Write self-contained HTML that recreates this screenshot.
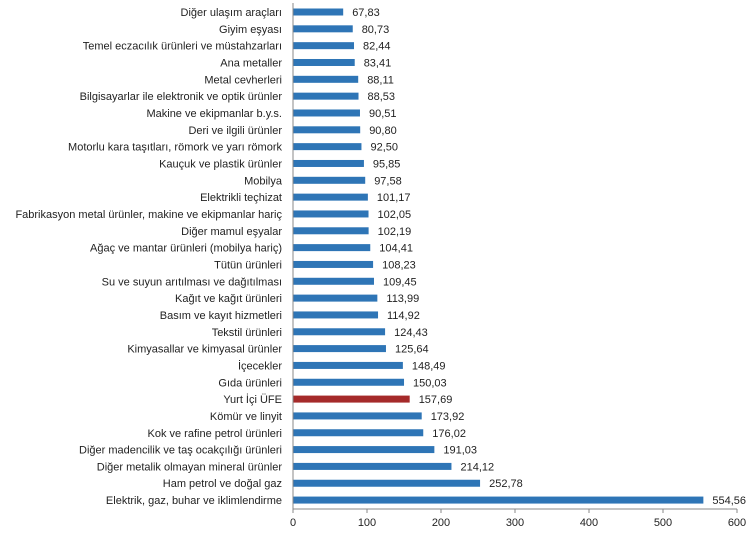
<!DOCTYPE html><html><head><meta charset="utf-8"><style>
body{margin:0;background:#fff;}
text{font-family:"Liberation Sans",sans-serif;font-size:11px;fill:#222;}
.b{fill:#2e75b6}
.l{text-anchor:end}
</style></head><body>
<svg width="750" height="529" xmlns="http://www.w3.org/2000/svg">
<g transform="translate(0,12)"><rect class="b" x="293" y="-3.5" width="50.19" height="7"/><text class="l" x="282" y="4">Diğer ulaşım araçları</text><text x="352.2" y="4">67,83</text></g>
<g transform="translate(0,28.83)"><rect class="b" x="293" y="-3.5" width="59.74" height="7"/><text class="l" x="282" y="4">Giyim eşyası</text><text x="361.7" y="4">80,73</text></g>
<g transform="translate(0,45.66)"><rect class="b" x="293" y="-3.5" width="61.01" height="7"/><text class="l" x="282" y="4">Temel eczacılık ürünleri ve müstahzarları</text><text x="363" y="4">82,44</text></g>
<g transform="translate(0,62.49)"><rect class="b" x="293" y="-3.5" width="61.72" height="7"/><text class="l" x="282" y="4">Ana metaller</text><text x="363.7" y="4">83,41</text></g>
<g transform="translate(0,79.32)"><rect class="b" x="293" y="-3.5" width="65.2" height="7"/><text class="l" x="282" y="4">Metal cevherleri</text><text x="367.2" y="4">88,11</text></g>
<g transform="translate(0,96.15)"><rect class="b" x="293" y="-3.5" width="65.51" height="7"/><text class="l" x="282" y="4">Bilgisayarlar ile elektronik ve optik ürünler</text><text x="367.5" y="4">88,53</text></g>
<g transform="translate(0,112.98)"><rect class="b" x="293" y="-3.5" width="66.98" height="7"/><text class="l" x="282" y="4">Makine ve ekipmanlar b.y.s.</text><text x="369" y="4">90,51</text></g>
<g transform="translate(0,129.81)"><rect class="b" x="293" y="-3.5" width="67.19" height="7"/><text class="l" x="282" y="4">Deri ve ilgili ürünler</text><text x="369.2" y="4">90,80</text></g>
<g transform="translate(0,146.64)"><rect class="b" x="293" y="-3.5" width="68.45" height="7"/><text class="l" x="282" y="4">Motorlu kara taşıtları, römork ve yarı römork</text><text x="370.5" y="4">92,50</text></g>
<g transform="translate(0,163.47)"><rect class="b" x="293" y="-3.5" width="70.93" height="7"/><text class="l" x="282" y="4">Kauçuk ve plastik ürünler</text><text x="372.9" y="4">95,85</text></g>
<g transform="translate(0,180.3)"><rect class="b" x="293" y="-3.5" width="72.21" height="7"/><text class="l" x="282" y="4">Mobilya</text><text x="374.2" y="4">97,58</text></g>
<g transform="translate(0,197.13)"><rect class="b" x="293" y="-3.5" width="74.87" height="7"/><text class="l" x="282" y="4">Elektrikli teçhizat</text><text x="376.9" y="4">101,17</text></g>
<g transform="translate(0,213.96)"><rect class="b" x="293" y="-3.5" width="75.52" height="7"/><text class="l" x="282" y="4">Fabrikasyon metal ürünler, makine ve ekipmanlar hariç</text><text x="377.5" y="4">102,05</text></g>
<g transform="translate(0,230.79)"><rect class="b" x="293" y="-3.5" width="75.62" height="7"/><text class="l" x="282" y="4">Diğer mamul eşyalar</text><text x="377.6" y="4">102,19</text></g>
<g transform="translate(0,247.62)"><rect class="b" x="293" y="-3.5" width="77.26" height="7"/><text class="l" x="282" y="4">Ağaç ve mantar ürünleri (mobilya hariç)</text><text x="379.3" y="4">104,41</text></g>
<g transform="translate(0,264.45)"><rect class="b" x="293" y="-3.5" width="80.09" height="7"/><text class="l" x="282" y="4">Tütün ürünleri</text><text x="382.1" y="4">108,23</text></g>
<g transform="translate(0,281.28)"><rect class="b" x="293" y="-3.5" width="80.99" height="7"/><text class="l" x="282" y="4">Su ve suyun arıtılması ve dağıtılması</text><text x="383" y="4">109,45</text></g>
<g transform="translate(0,298.11)"><rect class="b" x="293" y="-3.5" width="84.35" height="7"/><text class="l" x="282" y="4">Kağıt ve kağıt ürünleri</text><text x="386.4" y="4">113,99</text></g>
<g transform="translate(0,314.94)"><rect class="b" x="293" y="-3.5" width="85.04" height="7"/><text class="l" x="282" y="4">Basım ve kayıt hizmetleri</text><text x="387" y="4">114,92</text></g>
<g transform="translate(0,331.77)"><rect class="b" x="293" y="-3.5" width="92.08" height="7"/><text class="l" x="282" y="4">Tekstil ürünleri</text><text x="394.1" y="4">124,43</text></g>
<g transform="translate(0,348.6)"><rect class="b" x="293" y="-3.5" width="92.97" height="7"/><text class="l" x="282" y="4">Kimyasallar ve kimyasal ürünler</text><text x="395" y="4">125,64</text></g>
<g transform="translate(0,365.43)"><rect class="b" x="293" y="-3.5" width="109.88" height="7"/><text class="l" x="282" y="4">İçecekler</text><text x="411.9" y="4">148,49</text></g>
<g transform="translate(0,382.26)"><rect class="b" x="293" y="-3.5" width="111.02" height="7"/><text class="l" x="282" y="4">Gıda ürünleri</text><text x="413" y="4">150,03</text></g>
<g transform="translate(0,399.09)"><rect x="293" y="-3.5" width="116.69" height="7" fill="#a52a2a"/><text class="l" x="282" y="4">Yurt İçi ÜFE</text><text x="418.7" y="4">157,69</text></g>
<g transform="translate(0,415.92)"><rect class="b" x="293" y="-3.5" width="128.7" height="7"/><text class="l" x="282" y="4">Kömür ve linyit</text><text x="430.7" y="4">173,92</text></g>
<g transform="translate(0,432.75)"><rect class="b" x="293" y="-3.5" width="130.25" height="7"/><text class="l" x="282" y="4">Kok ve rafine petrol ürünleri</text><text x="432.3" y="4">176,02</text></g>
<g transform="translate(0,449.58)"><rect class="b" x="293" y="-3.5" width="141.36" height="7"/><text class="l" x="282" y="4">Diğer madencilik ve taş ocakçılığı ürünleri</text><text x="443.4" y="4">191,03</text></g>
<g transform="translate(0,466.41)"><rect class="b" x="293" y="-3.5" width="158.45" height="7"/><text class="l" x="282" y="4">Diğer metalik olmayan mineral ürünler</text><text x="460.5" y="4">214,12</text></g>
<g transform="translate(0,483.24)"><rect class="b" x="293" y="-3.5" width="187.06" height="7"/><text class="l" x="282" y="4">Ham petrol ve doğal gaz</text><text x="489.1" y="4">252,78</text></g>
<g transform="translate(0,500.07)"><rect class="b" x="293" y="-3.5" width="410.37" height="7"/><text class="l" x="282" y="4">Elektrik, gaz, buhar ve iklimlendirme</text><text x="712.4" y="4">554,56</text></g>
<line x1="293" y1="3" x2="293" y2="509" stroke="#888"/>
<line x1="293" y1="509" x2="737" y2="509" stroke="#888"/>
<g stroke="#888">
<line x1="293" y1="509" x2="293" y2="513"/><line x1="367" y1="509" x2="367" y2="513"/><line x1="441" y1="509" x2="441" y2="513"/><line x1="515" y1="509" x2="515" y2="513"/><line x1="589" y1="509" x2="589" y2="513"/><line x1="663" y1="509" x2="663" y2="513"/><line x1="737" y1="509" x2="737" y2="513"/>
</g>
<g text-anchor="middle">
<text x="293" y="526">0</text><text x="367" y="526">100</text><text x="441" y="526">200</text><text x="515" y="526">300</text><text x="589" y="526">400</text><text x="663" y="526">500</text><text x="737" y="526">600</text>
</g>
</svg></body></html>
